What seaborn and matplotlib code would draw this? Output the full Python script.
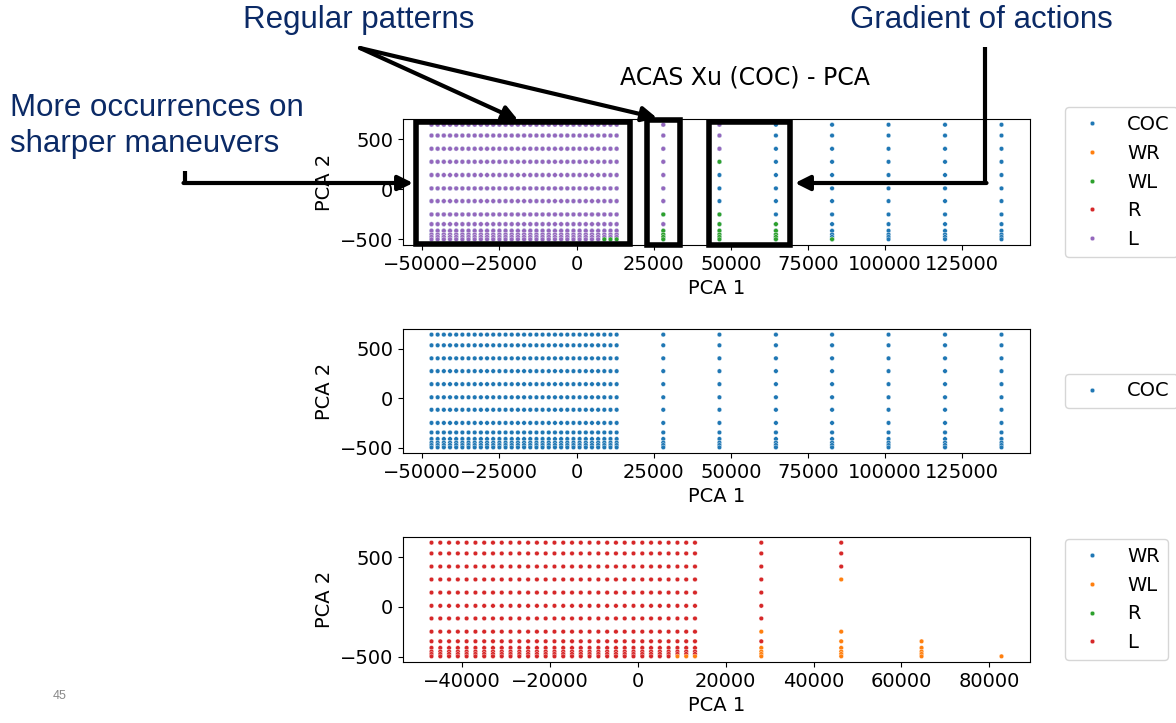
import matplotlib
matplotlib.use('Agg')
import matplotlib.pyplot as plt
from matplotlib.patches import Rectangle
import pandas as pd
import seaborn as sns

# grid of PCA points
x_near = [-47000, -45000, -43000, -41000, -39000, -37000, -35000, -33000, -31000, -29000,
          -27000, -25000, -23000, -21000, -19000, -17000, -15000, -13000, -11000, -9000,
          -7000, -5000, -3000, -1000, 1000, 3000, 5000, 7000, 9000, 11000, 13000]
x_far = [28100, 46300, 64600, 82800, 101100, 119400, 137700]
y_rows = [645, 537, 405, 275, 143, 10, -117, -250, -347, -413, -450, -475, -498]

# non-COC advisory per column, one char per y row (top to bottom): L = L, W = WL, . = none
near_adv = ['LLLLLLLLLLLLL'] * 28 + ['LLLLLLLLLLLLW'] * 3
far_adv = ['LLLLLLLWLWWWW', 'LLLW...WWWWWW', '........WWWWW', '............W',
           '.............', '.............', '.............']
codes = {'L': 'L', 'W': 'WL'}

hue_all = ['COC', 'WR', 'WL', 'R', 'L']
hue_coc = ['COC']
hue_rest = ['WR', 'WL', 'R', 'L']
xticks_wide = [-50000, -25000, 0, 25000, 50000, 75000, 100000, 125000]
xticks_rest = [-40000, -20000, 0, 20000, 40000, 60000, 80000]
yticks = [-500, 0, 500]

cols = ['PCA 1', 'PCA 2', 'action']
coc = pd.DataFrame([(x, y, 'COC') for x in x_near + x_far for y in y_rows], columns=cols)
rest = pd.DataFrame([(x, y, codes[c])
                     for x, col in zip(x_near + x_far, near_adv + far_adv)
                     for y, c in zip(y_rows, col) if c != '.'], columns=cols)
alldf = pd.concat([coc, rest], ignore_index=True)

plt.rcParams['font.family'] = 'DejaVu Sans'
plt.rcParams['font.size'] = 14

W, H = 1176, 723
fig = plt.figure(figsize=(W / 100, H / 100), dpi=100)


def box(l, t, r, b):
    return [l / W, 1 - b / H, (r - l) / W, (b - t) / H]


ax_top = fig.add_axes(box(403, 119, 1030, 245))
ax_mid = fig.add_axes(box(403, 329, 1030, 453))
ax_bot = fig.add_axes(box(403, 537, 1030, 662))

panels = [(ax_top, alldf, hue_all, xticks_wide),
          (ax_mid, coc, hue_coc, xticks_wide),
          (ax_bot, rest, hue_rest, xticks_rest)]
for ax, df, order, xt in panels:
    sns.scatterplot(data=df, x='PCA 1', y='PCA 2', hue='action', hue_order=order,
                    palette='tab10', s=11, ax=ax)
    ax.set_xticks(xt)
    ax.set_yticks(yticks)
    sns.move_legend(ax, 'center left', bbox_to_anchor=(1.04, 0.5), title=None,
                    fontsize=14)

fig.text(745 / W, 1 - 85 / H, 'ACAS Xu (COC) - PCA', ha='center', va='baseline',
         fontsize=17)

# slide annotations, drawn in pixel coords on top
ov = fig.add_axes([0, 0, 1, 1], zorder=10)
ov.set_xlim(0, W)
ov.set_ylim(H, 0)
ov.axis('off')

navy = '#0B2A66'
note = dict(color=navy, fontsize=22.5, family='Liberation Sans')
ov.text(359, 28, 'Regular patterns', ha='center', va='baseline', **note)
ov.text(981, 28, 'Gradient of actions', ha='center', va='baseline', **note)
ov.text(10, 116, 'More occurrences on', ha='left', va='baseline', **note)
ov.text(10, 152, 'sharper maneuvers', ha='left', va='baseline', **note)
ov.text(60, 696, '45', ha='center', va='center', fontsize=9, color='#888888',
        family='Liberation Sans')

for (l, t, r, b) in [(416, 122, 630, 244), (647, 120, 680, 245), (709, 122, 790, 245)]:
    ov.add_patch(Rectangle((l, t), r - l, b - t, fill=False, lw=4, ec='black'))

arr = dict(arrowstyle='-|>', color='black', lw=3, mutation_scale=22, shrinkA=0, shrinkB=0)
ov.annotate('', xy=(518, 120), xytext=(360, 48), arrowprops=arr)
ov.annotate('', xy=(657, 118), xytext=(360, 48), arrowprops=arr)
ov.plot([185, 185], [171, 183], color='black', lw=3, solid_capstyle='butt')
ov.annotate('', xy=(413, 183), xytext=(183.5, 183), arrowprops=arr)
ov.plot([985, 985], [47, 183], color='black', lw=3, solid_capstyle='butt')
ov.annotate('', xy=(795, 183), xytext=(986.5, 183), arrowprops=arr)

fig.savefig('out.png', dpi=100)
